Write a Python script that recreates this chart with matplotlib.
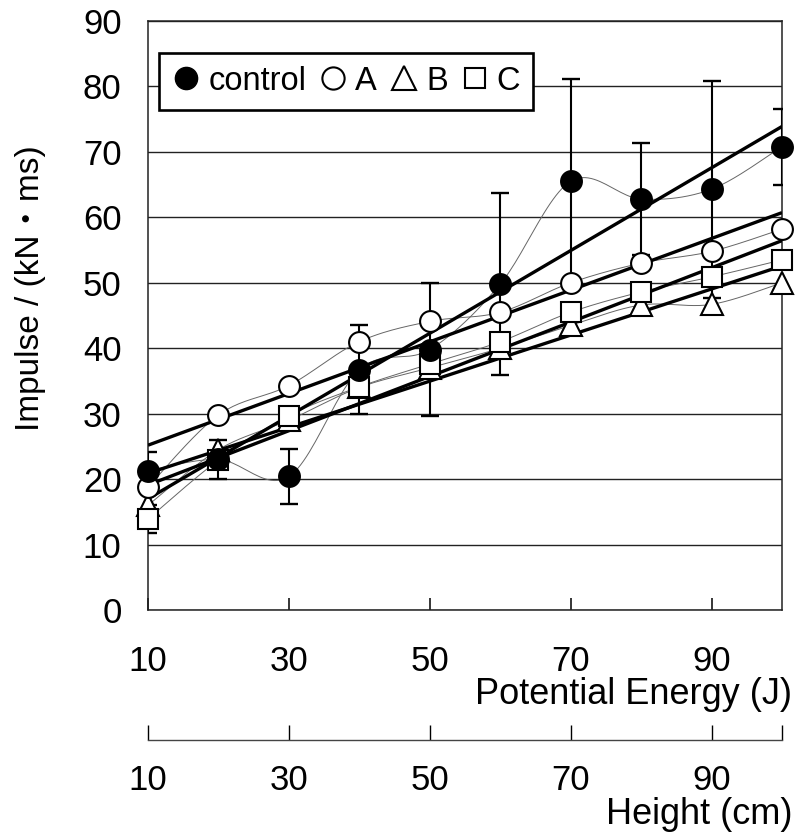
import numpy as np
import matplotlib
matplotlib.use('Agg')
import matplotlib.pyplot as plt
from matplotlib.lines import Line2D

# data
x = [10, 20, 30, 40, 50, 60, 70, 80, 90, 100]
control = [21.3, 23.0, 20.4, 36.7, 39.8, 49.8, 65.5, 62.8, 64.3, 70.8]
control_err = [2.8, 3.0, 4.2, 6.8, 10.2, 13.9, 15.6, 8.6, 16.6, 5.8]
series_a = [18.8, 29.8, 34.3, 41.0, 44.1, 45.5, 50.0, 53.0, 54.8, 58.2]
series_b = [16.0, 24.5, 29.0, 34.0, 37.0, 40.0, 43.5, 46.6, 46.7, 50.0]
series_c = [13.9, 22.9, 29.7, 34.1, 37.6, 41.0, 45.5, 48.6, 50.9, 53.5]
c_err = [2.2, 0, 0, 0, 0, 0, 0, 0, 0, 0]
energy_ticks = [10, 30, 50, 70, 90]
height_ticks = [10, 30, 50, 70, 90, 100]
height_labels = ['10', '30', '50', '70', '90', '']

num_font = 'Liberation Sans'
plt.rcParams['font.family'] = ['Liberation Sans', 'Noto Sans CJK JP', 'DejaVu Sans']


def smooth(xs, ys, n=24):
    # Excel-style smoothed line (Bezier through the points)
    pts = np.column_stack([xs, ys]).astype(float)
    p = np.vstack([pts[0], pts, pts[-1]])
    t = np.linspace(0, 1, n, endpoint=False)[:, None]
    out = []
    for i in range(1, len(p) - 2):
        p0, p1, p2, p3 = p[i - 1], p[i], p[i + 1], p[i + 2]
        c1 = p1 + (p2 - p0) / 6
        c2 = p2 - (p3 - p1) / 6
        out.append((1 - t) ** 3 * p1 + 3 * (1 - t) ** 2 * t * c1
                   + 3 * (1 - t) * t ** 2 * c2 + t ** 3 * p2)
    out.append(pts[-1:])
    return np.vstack(out)


fig = plt.figure(figsize=(8, 8.4), dpi=100)
ax = fig.add_axes([0.185, 0.2738, 0.7925, 0.7012])

ax.set_xlim(10, 100)
ax.set_ylim(0, 90)
ax.set_yticks(range(0, 91, 10))
ax.yaxis.grid(True, color='#222222', lw=1.0)
ax.set_axisbelow(True)
for s in ax.spines.values():
    s.set_linewidth(1.1)
    s.set_color('#222222')

xs = np.array(x)
xf = np.array([10, 100])
for ys in [control, series_a, series_b, series_c]:
    sm = smooth(xs, ys)
    ax.plot(sm[:, 0], sm[:, 1], color='#666666', lw=0.7, zorder=2)
for ys in [control, series_a, series_b, series_c]:
    k, b = np.polyfit(xs, ys, 1)
    ax.plot(xf, k * xf + b, color='black', lw=2.4, zorder=3, solid_capstyle='butt')

ax.errorbar(x, control, yerr=control_err, fmt='none', ecolor='black',
            elinewidth=1.5, capsize=6.5, capthick=1.7, zorder=4)
ax.errorbar(x, series_c, yerr=c_err, fmt='none', ecolor='black',
            elinewidth=1.5, capsize=6.5, capthick=1.7, zorder=4)

mk = dict(ls='none', mec='black', mew=1.5, zorder=5, clip_on=False)
ax.plot(x, series_b, marker='^', ms=16, mfc='white', **mk)
ax.plot(x, series_c, marker='s', ms=14, mfc='white', **mk)
ax.plot(x, series_a, marker='o', ms=15, mfc='white', **mk)
ax.plot(x, control, marker='o', ms=15, mfc='black', **mk)

ax.set_xticks(energy_ticks)
ax.set_xticklabels([str(v) for v in energy_ticks], family=num_font, fontsize=25)
ax.tick_params(axis='x', direction='in', length=9, width=1.1, pad=25)
ax.tick_params(axis='y', length=0, pad=19)
for lab in ax.get_yticklabels():
    lab.set_family(num_font)
    lab.set_fontsize(25)

handles = [
    Line2D([], [], ls='none', marker='o', ms=16, mfc='black', mec='black'),
    Line2D([], [], ls='none', marker='o', ms=16, mfc='white', mec='black', mew=1.5),
    Line2D([], [], ls='none', marker='^', ms=17, mfc='white', mec='black', mew=1.5),
    Line2D([], [], ls='none', marker='s', ms=15, mfc='white', mec='black', mew=1.5),
]
leg = ax.legend(handles, ['control', 'A', 'B', 'C'], ncol=4, loc='upper left',
                bbox_to_anchor=(0.018, 0.946), fontsize=23.5, frameon=True,
                fancybox=False, framealpha=1, edgecolor='black',
                handlelength=0.85, handletextpad=0.25, columnspacing=0.4,
                borderpad=0.4, borderaxespad=0)
leg.get_frame().set_linewidth(1.9)
leg.set_zorder(10)

fig.text(0.99, 1 - 704 / 840, 'Potential Energy (J)', ha='right', va='baseline',
         family=num_font, fontsize=26)

# second x axis: height
ax2 = fig.add_axes([0.185, 0.119, 0.7925, 0.0001])
ax2.set_xlim(10, 100)
ax2.set_yticks([])
for side in ['top', 'left', 'right']:
    ax2.spines[side].set_visible(False)
ax2.spines['bottom'].set_color('#444444')
ax2.spines['bottom'].set_linewidth(1.0)
ax2.set_xticks(height_ticks)
ax2.set_xticklabels(height_labels, family=num_font, fontsize=25)
ax2.tick_params(axis='x', direction='in', length=11, width=1.0, pad=17)

fig.text(0.99, 1 - 824 / 840, 'Height (cm)', ha='right', va='baseline',
         family=num_font, fontsize=26)

fig.text(0.038, 1 - 288 / 840, 'Impulse / (kN・ms)', rotation=90,
         ha='center', va='center', fontsize=24)

fig.savefig('out.png', dpi=100)
